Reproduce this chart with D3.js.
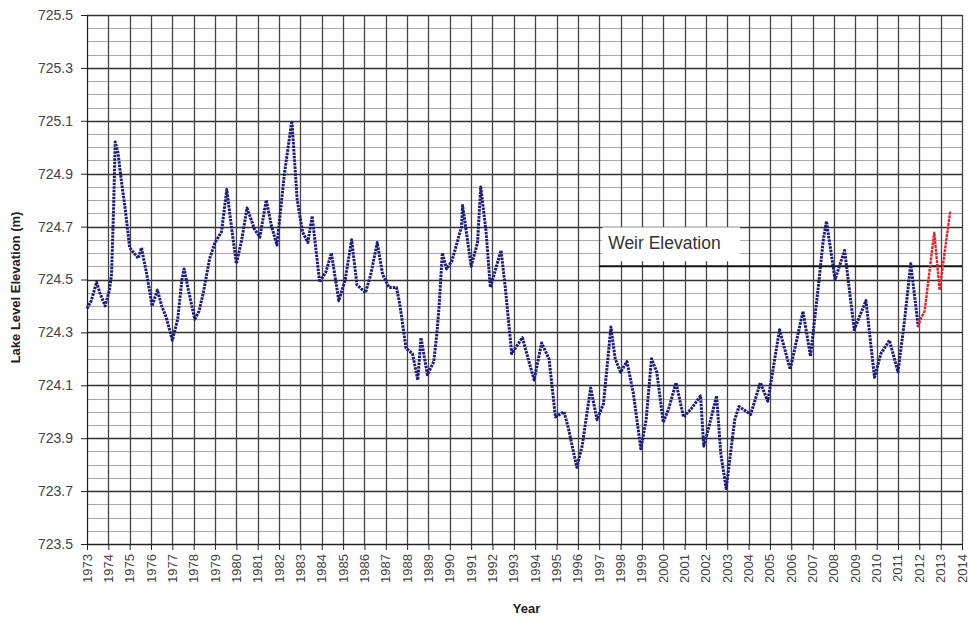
<!DOCTYPE html>
<html lang="en">
  <head>
    <meta charset="utf-8">
    <title>Lake Level Elevation</title>
    <script src="https://d3js.org/d3.v7.min.js"></script>
    <style>
      body { margin: 0; background: #fff; overflow: hidden; }
      svg { display: block; }
      text { font-family: Arial, "Liberation Sans", sans-serif; fill: #333; }
    </style>
  </head>

  <body>

  <script>

  // measured lake level (m), decimal year
  var years = [1973.00, 1973.20, 1973.45, 1973.60, 1973.85, 1974.05, 1974.15, 1974.25, 1974.32, 1974.45,
    1974.60, 1974.80, 1975.00, 1975.20, 1975.40, 1975.55, 1975.80, 1976.05, 1976.30, 1976.50,
    1976.70, 1977.00, 1977.25, 1977.45, 1977.55, 1977.75, 1978.05, 1978.25, 1978.45, 1978.75,
    1979.00, 1979.30, 1979.55, 1979.80, 1980.00, 1980.25, 1980.50, 1980.85, 1981.10, 1981.40,
    1981.65, 1981.90, 1982.25, 1982.60, 1982.85, 1983.10, 1983.35, 1983.55, 1983.90, 1984.20,
    1984.45, 1984.80, 1985.10, 1985.40, 1985.65, 1986.05, 1986.30, 1986.60, 1986.85, 1987.15,
    1987.50, 1987.65, 1987.95, 1988.25, 1988.50, 1988.65, 1988.95, 1989.25, 1989.40, 1989.50,
    1989.65, 1989.85, 1990.10, 1990.55, 1990.60, 1991.00, 1991.30, 1991.45, 1991.70, 1991.90,
    1992.40, 1992.60, 1992.90, 1993.40, 1993.95, 1994.30, 1994.65, 1994.95, 1995.35, 1995.55,
    1995.95, 1996.20, 1996.60, 1996.90, 1997.20, 1997.55, 1997.75, 1998.00, 1998.30, 1998.60,
    1998.95, 1999.20, 1999.45, 1999.70, 2000.00, 2000.25, 2000.60, 2000.95, 2001.30, 2001.75,
    2001.90, 2002.10, 2002.50, 2002.70, 2002.95, 2003.35, 2003.55, 2004.10, 2004.55, 2004.90,
    2005.45, 2005.95, 2006.55, 2006.90, 2007.25, 2007.50, 2007.65, 2008.05, 2008.50, 2008.95,
    2009.25, 2009.50, 2009.90, 2010.20, 2010.60, 2011.00, 2011.30, 2011.60, 2011.95];

  var levels = [724.39, 724.42, 724.49, 724.45, 724.40, 724.46, 724.52, 724.78, 725.02, 724.98,
    724.88, 724.76, 724.62, 724.60, 724.58, 724.62, 724.52, 724.40, 724.46, 724.40,
    724.36, 724.27, 724.35, 724.50, 724.54, 724.46, 724.35, 724.38, 724.45, 724.58,
    724.64, 724.68, 724.84, 724.68, 724.56, 724.65, 724.77, 724.69, 724.66, 724.80,
    724.70, 724.63, 724.90, 725.10, 724.80, 724.68, 724.64, 724.74, 724.49, 724.53,
    724.60, 724.42, 724.50, 724.65, 724.48, 724.45, 724.52, 724.64, 724.52, 724.47,
    724.47, 724.41, 724.24, 724.22, 724.12, 724.28, 724.14, 724.19, 724.30, 724.40,
    724.60, 724.54, 724.57, 724.70, 724.78, 724.55, 724.64, 724.85, 724.68, 724.47,
    724.61, 724.47, 724.22, 724.28, 724.12, 724.26, 724.20, 723.98, 724.00, 723.94,
    723.79, 723.87, 724.09, 723.97, 724.03, 724.32, 724.20, 724.15, 724.19, 724.07,
    723.86, 723.97, 724.20, 724.15, 723.96, 724.01, 724.11, 723.98, 724.01, 724.06,
    723.87, 723.93, 724.06, 723.84, 723.71, 723.97, 724.02, 723.99, 724.11, 724.04,
    724.31, 724.16, 724.38, 724.21, 724.46, 724.65, 724.72, 724.50, 724.61, 724.31,
    724.37, 724.42, 724.13, 724.22, 724.27, 724.15, 724.34, 724.56, 724.32];

  // recent readings drawn in red
  var recentYears = [2011.95, 2012.05, 2012.25, 2012.70, 2012.95, 2013.45];
  var recentLevels = [724.32, 724.35, 724.38, 724.68, 724.46, 724.76];

  var weirLevel = 724.55;
  var weirStart = 1997;
  var weirLabel = "Weir Elevation";

  var yTicks = [723.5, 723.7, 723.9, 724.1, 724.3, 724.5, 724.7, 724.9, 725.1, 725.3, 725.5];
  var yearTicks = d3.range(1973, 2015);

  var w = 968;
  var h = 618;
  var margin = {top: 15, right: 6, bottom: 74, left: 87};
  var innerWidth = w - margin.left - margin.right;
  var innerHeight = h - margin.top - margin.bottom;

  var svg = d3.select("body")
    .append("svg")
    .attr("width", w)
    .attr("height", h);

  var g = svg.append("g")
    .attr("transform", `translate(${margin.left}, ${margin.top})`);

  var xScale = d3.scaleLinear()
    .domain([1973, 2014])
    .range([0, innerWidth]);

  var yScale = d3.scaleLinear()
    .domain([723.5, 725.5])
    .range([innerHeight, 0]);

  // horizontal grid every 0.05 m, darker at the labelled values
  var minor = d3.range(0, 41).map(i => 723.5 + i * 0.05);
  g.selectAll(".hgrid")
    .data(minor)
    .enter().append("line")
    .attr("class", "hgrid")
    .attr("x1", 0)
    .attr("x2", innerWidth)
    .attr("y1", d => Math.round(yScale(d)) + 0.5)
    .attr("y2", d => Math.round(yScale(d)) + 0.5)
    .style("stroke", (d, i) => i % 4 === 0 ? "#333" : "#a8a8a8")
    .style("stroke-width", (d, i) => i % 4 === 0 ? 1.3 : 1.2);

  g.selectAll(".vgrid")
    .data(yearTicks)
    .enter().append("line")
    .attr("class", "vgrid")
    .attr("x1", d => Math.round(xScale(d)) + 0.5)
    .attr("x2", d => Math.round(xScale(d)) + 0.5)
    .attr("y1", 0)
    .attr("y2", innerHeight)
    .style("stroke", "#444")
    .style("stroke-width", 1.3);

  // axes
  var yAxis = d3.axisLeft(yScale)
    .tickValues(yTicks)
    .tickSize(6)
    .tickPadding(8)
    .tickFormat(d3.format(".1f"));

  var xAxis = d3.axisBottom(xScale)
    .tickValues(yearTicks)
    .tickSize(6)
    .tickFormat("");

  var ya = g.append("g").call(yAxis);
  ya.selectAll("text").style("font-size", "14px").style("fill", "#444");

  g.append("g")
    .attr("transform", `translate(0, ${innerHeight})`)
    .call(xAxis);

  svg.selectAll(".domain, .tick line").style("stroke", "#222");

  // year labels, turned on their side
  g.selectAll(".year")
    .data(yearTicks)
    .enter().append("g")
    .attr("class", "year")
    .attr("transform", d => `translate(${xScale(d) + 4.5}, ${innerHeight + 10}) rotate(-90)`)
    .append("text")
    .attr("text-anchor", "end")
    .style("font-size", "13px")
    .style("fill", "#444")
    .text(d => d);

  // weir label with white box behind
  g.append("rect")
    .attr("x", xScale(weirStart) + 3)
    .attr("y", yScale(weirLevel) - 39)
    .attr("width", 138)
    .attr("height", 34)
    .style("fill", "#fff");

  g.append("text")
    .attr("x", xScale(weirStart) + 9)
    .attr("y", yScale(weirLevel) - 17)
    .style("font-size", "17.5px")
    .text(weirLabel);

  g.append("line")
    .attr("x1", xScale(weirStart))
    .attr("x2", innerWidth)
    .attr("y1", yScale(weirLevel))
    .attr("y2", yScale(weirLevel))
    .style("stroke", "#111")
    .style("stroke-width", 2);

  // lake level series
  var pts = years.map((d, i) => [d, levels[i]]);
  var recent = recentYears.map((d, i) => [d, recentLevels[i]]);

  var line = d3.line()
    .x(d => xScale(d[0]))
    .y(d => yScale(d[1]));

  g.append("path")
    .datum(pts)
    .attr("d", line)
    .style("fill", "none")
    .style("stroke", "#1c1c7c")
    .style("stroke-width", 3)
    .style("stroke-linejoin", "round")
    .style("stroke-dasharray", "2.5,1");

  g.append("path")
    .datum(recent)
    .attr("d", line)
    .style("fill", "none")
    .style("stroke", "#e8202a")
    .style("stroke-width", 2.4)
    .style("stroke-dasharray", "3,0.8");

  // axis titles
  svg.append("g")
    .attr("transform", `translate(20, ${margin.top + innerHeight / 2 + 8}) rotate(-90)`)
    .append("text")
    .attr("text-anchor", "middle")
    .style("font-size", "13px")
    .style("font-weight", "bold")
    .style("fill", "#222")
    .text("Lake Level Elevation (m)");

  svg.append("text")
    .attr("x", margin.left + innerWidth / 2 + 2)
    .attr("y", 613)
    .attr("text-anchor", "middle")
    .style("font-size", "13px")
    .style("font-weight", "bold")
    .style("fill", "#222")
    .text("Year");

  </script>

  </body>

</html>
